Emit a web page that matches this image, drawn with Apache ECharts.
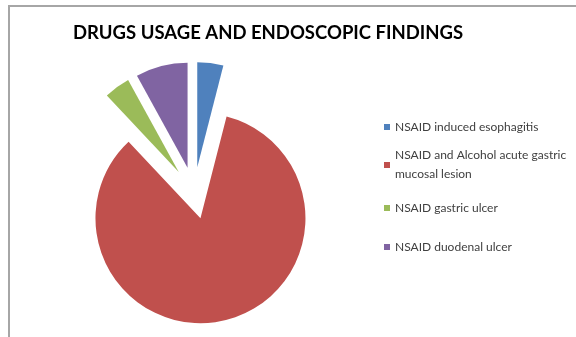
<!DOCTYPE html>
<html>
<head>
<meta charset="utf-8">
<script src="https://cdn.jsdelivr.net/npm/echarts@6/dist/echarts.min.js"></script>
<style>html,body{margin:0;padding:0;background:#fff}#c{width:576px;height:337px}</style>
</head>
<body>
<div id="c"></div>
<script>
var titleText = 'DRUGS USAGE AND ENDOSCOPIC FINDINGS';
var categories = ['NSAID induced esophagitis', 'NSAID and Alcohol acute gastric mucosal lesion', 'NSAID gastric ulcer', 'NSAID duodenal ulcer'];
var values = [1, 21, 1, 2];
var colors = ['#4F81BD', '#C0504D', '#9BBB59', '#8064A2'];

var chart = echarts.init(document.getElementById('c'), null, {renderer: 'canvas'});
var data = categories.map(function (n, i) {
  return { name: n, value: values[i], selected: true, itemStyle: { color: colors[i] } };
});
var legendTops = [117.5, 136.5, 198.5, 237.5];
var legends = categories.map(function (n, i) {
  return {
    data: [n], orient: 'vertical', left: 384, top: legendTops[i], padding: 0,
    icon: 'rect', itemWidth: 6, itemHeight: 6, selectedMode: false,
    textStyle: {
      fontFamily: 'Lato', fontSize: 12, color: '#404040', lineHeight: 19,
      width: 182, overflow: 'break',
      padding: i === 1 ? [19, 0, 0, 0] : 0
    }
  };
});
chart.setOption({
  animation: false,
  color: colors,
  title: {
    text: titleText, left: 73, top: 24, padding: 0,
    textStyle: { fontFamily: 'Lato', fontWeight: 'bold', fontSize: 18.5, color: '#000' }
  },
  legend: legends,
  graphic: [{
    type: 'rect', shape: { x: 9, y: 6, width: 700, height: 500 },
    style: { fill: 'none', stroke: '#A6A6A6', lineWidth: 2 }, silent: true
  }],
  series: [{
    type: 'pie', center: [194, 193], radius: 105, startAngle: 90, clockwise: true,
    selectedMode: 'multiple', selectedOffset: 26,
    label: { show: false }, labelLine: { show: false },
    emphasis: { disabled: true, scale: false },
    select: { itemStyle: { borderWidth: 0 } },
    itemStyle: { borderWidth: 0 },
    data: data
  }]
});
</script>
</body>
</html>
